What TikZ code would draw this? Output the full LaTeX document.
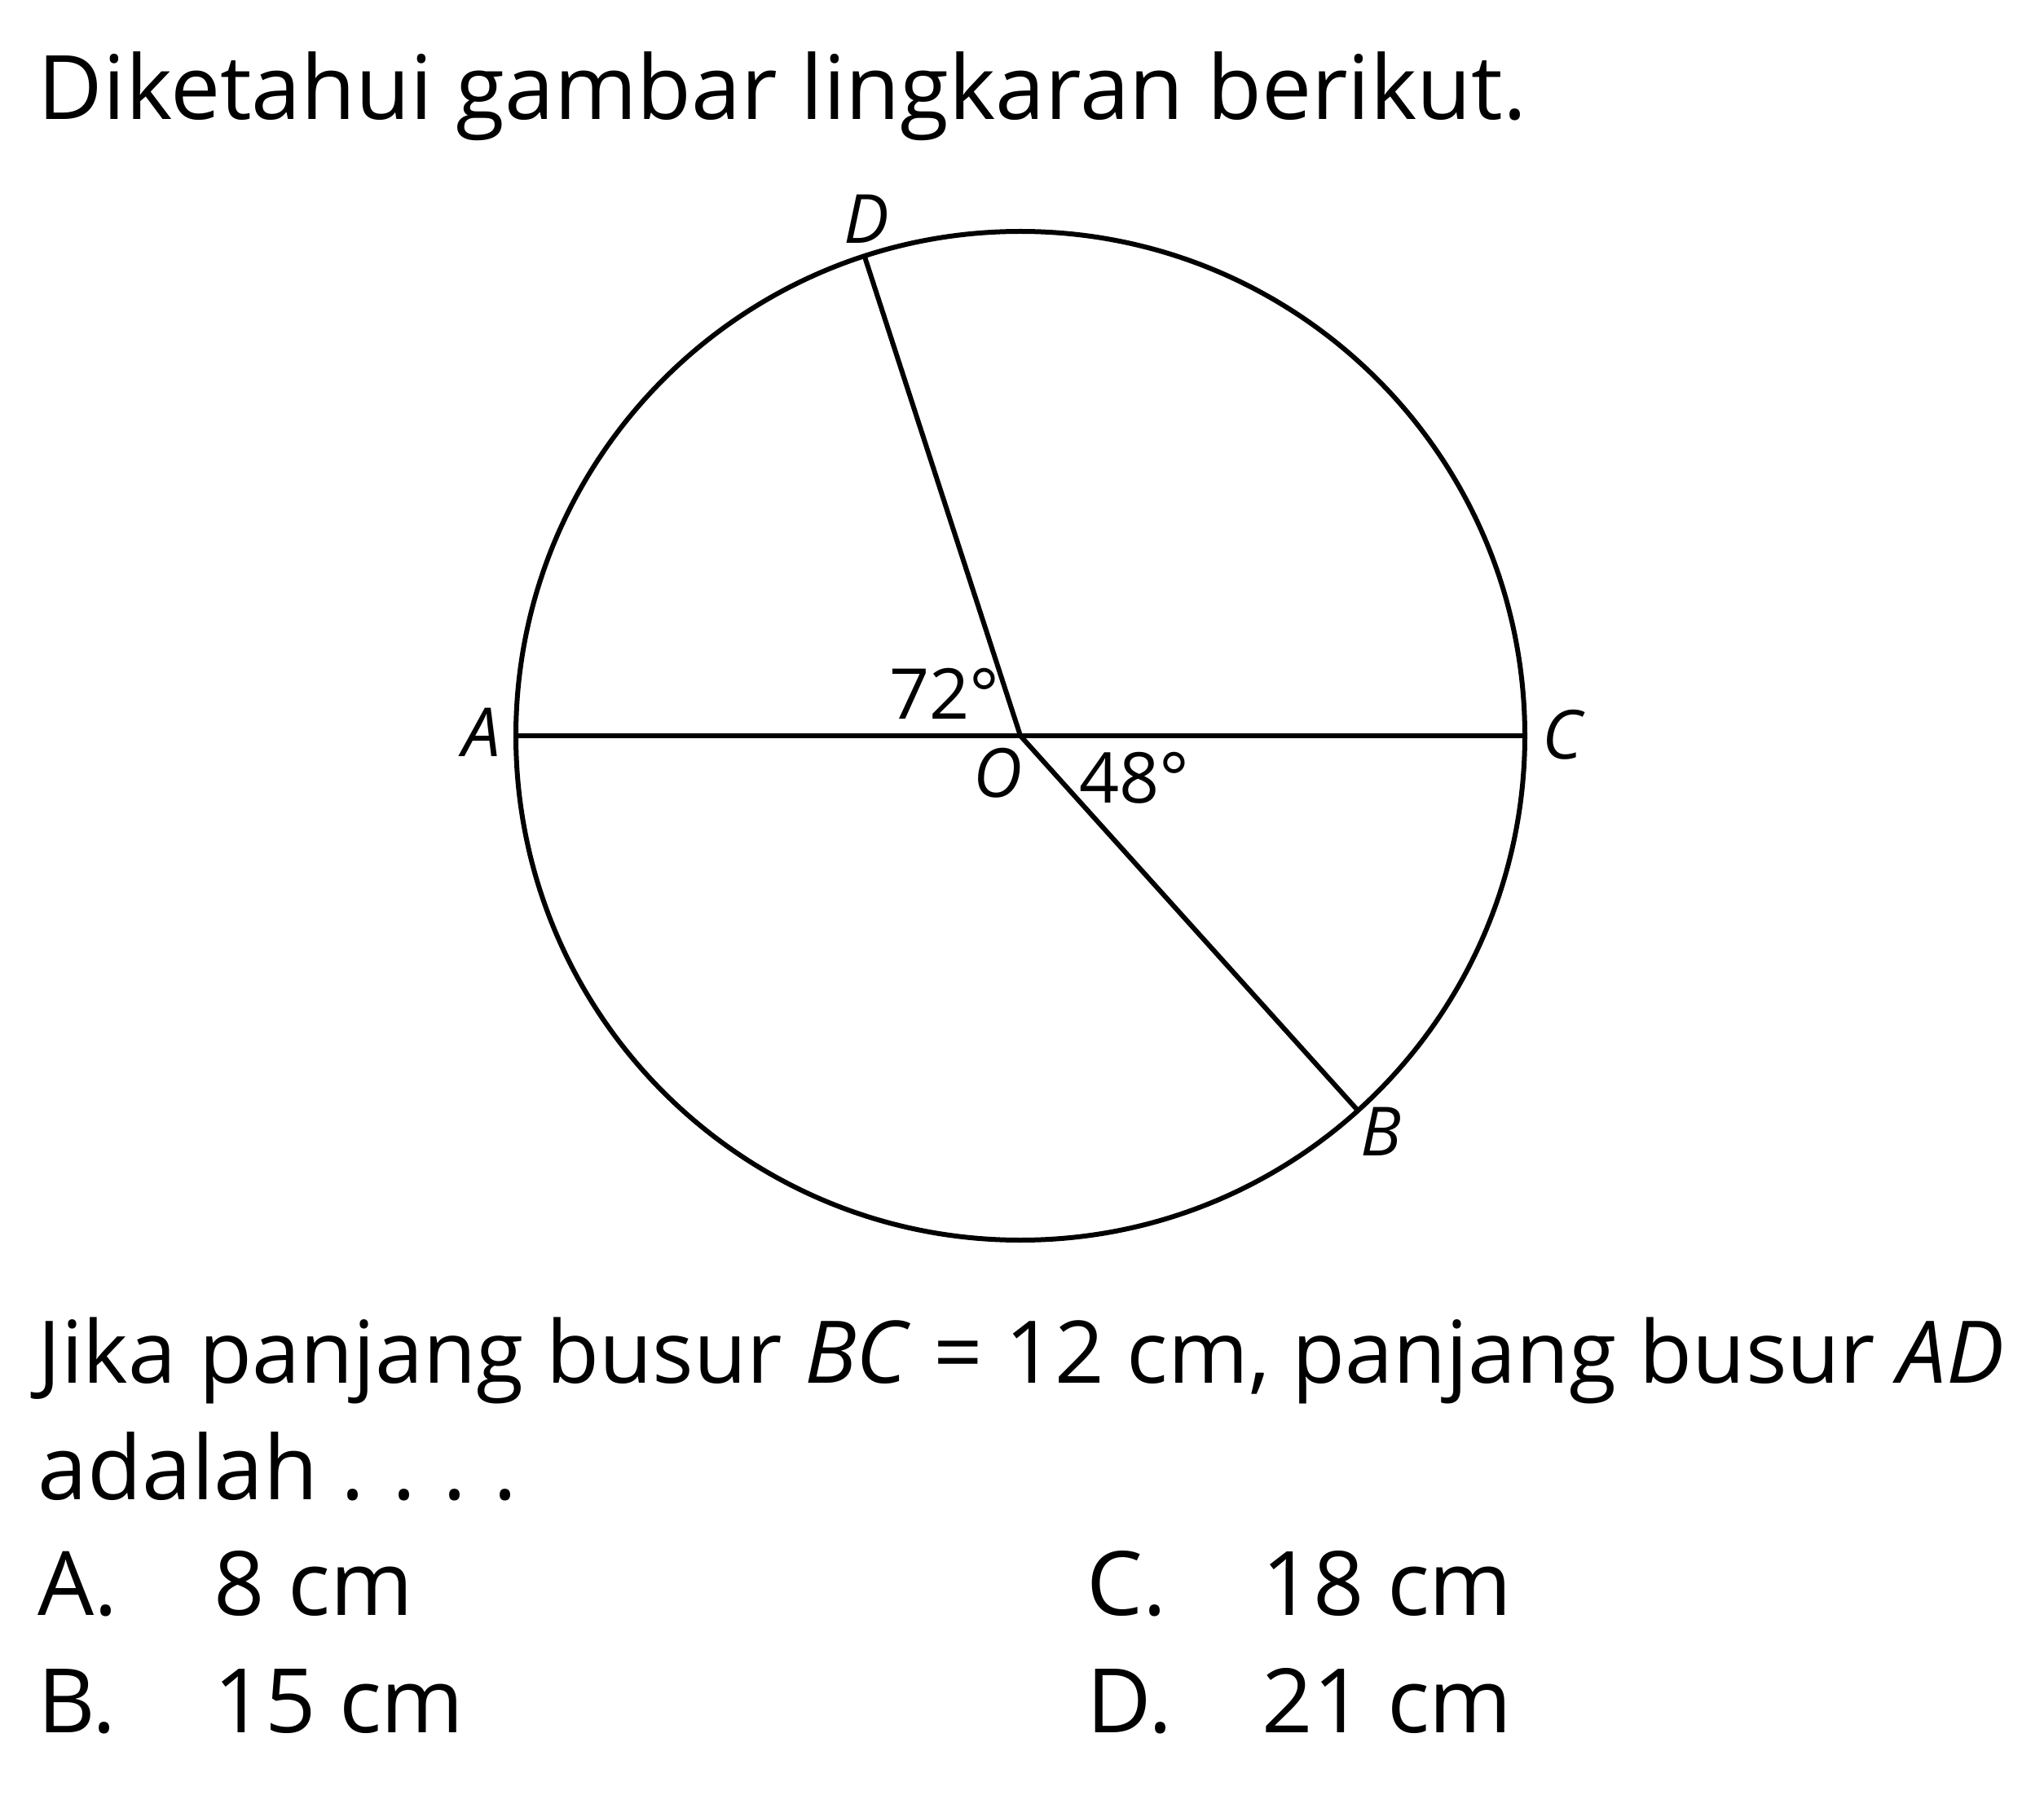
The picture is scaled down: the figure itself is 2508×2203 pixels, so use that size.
\documentclass[tikz,border=0pt]{standalone}
\usepackage{fontspec}
\setmainfont{Open Sans}
\usetikzlibrary{calc}
\begin{document}
\begin{tikzpicture}[x=0.25pt,y=-0.25pt,
  txt/.style={anchor=base west,inner sep=0pt,font=\fontsize{27.3}{33}\selectfont},
  lbl/.style={inner sep=0pt,font=\fontsize{20.8}{25}\selectfont\itshape},
  deg/.style={inner sep=0pt,font=\fontsize{21.5}{26}\selectfont},
  ln/.style={line width=1.5pt}]
\useasboundingbox[fill=white] (0,0) rectangle (2508,2203);
% circle (y axis points down, so angles are measured clockwise)
\coordinate (O) at (1252,903);
\coordinate (A) at ($(O)+(180:619)$);
\coordinate (C) at ($(O)+(0:619)$);
\coordinate (D) at ($(O)+(-108:619)$);
\coordinate (B) at ($(O)+(48:619)$);
\draw[ln] (O) circle[radius=619];
\draw[ln] (A) -- (C);
\draw[ln] (O) -- (D);
\draw[ln] (O) -- (B);
% point labels
\node[lbl] (lD) at (1063,269) {D};
\node[lbl] (lA) at (591,899) {A};
\node[lbl] (lC) at (1917,902) {C};
\node[lbl] (lO) at (1224,949) {O};
\node[lbl] (lB) at (1694,1389) {B};
\node[deg] (d72) at (1159,851) {72°};
\node[deg] (d48) at (1392,955) {48°};
% texts
\node[txt] (title) at (46,147) {Diketahui gambar lingkaran berikut.};
\node[txt] (q1) at (46,1697) {\resizebox{603pt}{!}{Jika panjang busur \textit{BC} = 12 cm, panjang busur \textit{AD}}};
\node[txt] (q2) at (46,1840) {adalah\ .\kern1.2pt\ .\kern1.2pt\ .\kern1.2pt\ .};
\node[txt] (oA) at (46,1982) {A.};
\node[txt] (vA) at (262,1982) {8 cm};
\node[txt] (oB) at (46,2126) {B.};
\node[txt] (vB) at (262,2126) {15 cm};
\node[txt] (oC) at (1333,1982) {C.};
\node[txt] (vC) at (1548,1982) {18 cm};
\node[txt] (oD) at (1333,2126) {D.};
\node[txt] (vD) at (1548,2126) {21 cm};
\end{tikzpicture}
\end{document}
